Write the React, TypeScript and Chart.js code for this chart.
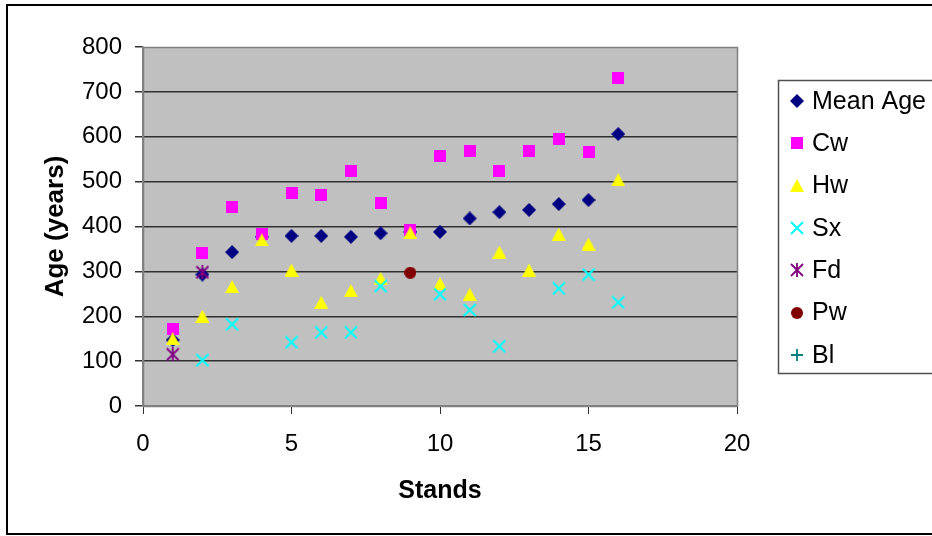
import React, { useEffect, useRef } from 'react';
import { Chart, registerables } from 'chart.js';

Chart.register(...registerables);

// ---- data ----
const stands = [1, 2, 3, 4, 5, 6, 7, 8, 9, 10, 11, 12, 13, 14, 15, 16];
const meanAge = [147, 293, 343, 377, 379, 379, 377, 385, 388, 388, 418, 432, 437, 450, 459, 606];
const cwAge = [172, 342, 444, 383, 475, 471, 524, 453, 392, 556, 569, 524, 569, 595, 565, 730];
const hwAge = [150, 200, 266, 370, 303, 231, 257, 284, 386, 273, 249, 343, 303, 383, 361, 504];
const sxStands = [2, 3, 5, 6, 7, 8, 10, 11, 12, 14, 15, 16];
const sxAge = [102, 182, 142, 164, 164, 267, 249, 214, 133, 262, 293, 231];
const fdStands = [1, 2];
const fdAge = [115, 298];
const pwStands = [9];
const pwAge = [297];
const blStands: number[] = [];
const blAge: number[] = [];
const seriesNames = ['Mean Age', 'Cw', 'Hw', 'Sx', 'Fd', 'Pw', 'Bl'];
const yTickValues = [0, 100, 200, 300, 400, 500, 600, 700, 800];
const xTickValues = [0, 5, 10, 15, 20];

const FONT = "'Liberation Sans', Arial, sans-serif";

type Kind = 'diamond' | 'square' | 'triangle' | 'x' | 'asterisk' | 'circle' | 'plus';

function makeMarker(kind: Kind, color: string): HTMLCanvasElement {
  const c = document.createElement('canvas');
  let w = 14, h = 14;
  if (kind === 'square' || kind === 'circle') { w = 12; h = 12; }
  if (kind === 'triangle') { w = 14; h = 13; }
  c.width = w; c.height = h;
  const ctx = c.getContext('2d')!;
  ctx.fillStyle = color;
  ctx.strokeStyle = color;
  switch (kind) {
    case 'diamond':
      ctx.beginPath();
      ctx.moveTo(7, 0); ctx.lineTo(14, 7); ctx.lineTo(7, 14); ctx.lineTo(0, 7);
      ctx.closePath(); ctx.fill();
      break;
    case 'square':
      ctx.fillRect(0, 0, 12, 12);
      break;
    case 'triangle':
      ctx.beginPath();
      ctx.moveTo(7, 0); ctx.lineTo(14, 13); ctx.lineTo(0, 13);
      ctx.closePath(); ctx.fill();
      break;
    case 'x':
      ctx.lineWidth = 2;
      ctx.beginPath();
      ctx.moveTo(1, 1); ctx.lineTo(13, 13);
      ctx.moveTo(13, 1); ctx.lineTo(1, 13);
      ctx.stroke();
      break;
    case 'asterisk':
      ctx.lineWidth = 1.8;
      ctx.beginPath();
      ctx.moveTo(1, 1); ctx.lineTo(13, 13);
      ctx.moveTo(13, 1); ctx.lineTo(1, 13);
      ctx.moveTo(7, 0); ctx.lineTo(7, 14);
      ctx.stroke();
      break;
    case 'circle':
      ctx.beginPath();
      ctx.arc(6, 6, 6, 0, Math.PI * 2);
      ctx.fill();
      break;
    case 'plus':
      ctx.lineWidth = 1.8;
      ctx.beginPath();
      ctx.moveTo(7, 1); ctx.lineTo(7, 13);
      ctx.moveTo(1, 7); ctx.lineTo(13, 7);
      ctx.stroke();
      break;
  }
  return c;
}

function pts(xs: number[], ys: number[]) {
  return xs.map((x, i) => ({ x, y: ys[i] }));
}

export default function App() {
  const ref = useRef<HTMLCanvasElement | null>(null);

  useEffect(() => {
    if (!ref.current) return;
    const markers = [
      makeMarker('diamond', '#000080'),
      makeMarker('square', '#FF00FF'),
      makeMarker('triangle', '#FFFF00'),
      makeMarker('x', '#00FFFF'),
      makeMarker('asterisk', '#800080'),
      makeMarker('circle', '#800000'),
      makeMarker('plus', '#008080'),
    ];
    const seriesData = [
      pts(stands, meanAge),
      pts(stands, cwAge),
      pts(stands, hwAge),
      pts(sxStands, sxAge),
      pts(fdStands, fdAge),
      pts(pwStands, pwAge),
      pts(blStands, blAge),
    ];

    const framePlugin = {
      id: 'frame',
      beforeDraw(chart: any) {
        const { ctx, chartArea: a } = chart;
        ctx.save();
        ctx.fillStyle = '#FFFFFF';
        ctx.fillRect(0, 0, chart.width, chart.height);
        ctx.fillStyle = '#C0C0C0';
        ctx.fillRect(a.left, a.top, a.right - a.left, a.bottom - a.top);
        ctx.restore();
      },
      beforeDatasetsDraw(chart: any) {
        const { ctx, chartArea: a } = chart;
        ctx.save();
        ctx.strokeStyle = '#808080';
        ctx.lineWidth = 1.5;
        ctx.strokeRect(Math.round(a.left) + 0.5, Math.round(a.top) + 0.5, Math.round(a.right - a.left), Math.round(a.bottom - a.top));
        ctx.restore();
      },
      afterDraw(chart: any) {
        const { ctx } = chart;
        ctx.save();
        // outer chart border
        ctx.strokeStyle = '#000000';
        ctx.lineWidth = 2;
        ctx.strokeRect(7, 5, 1000, 529);
        // legend box
        ctx.strokeStyle = '#505050';
        ctx.lineWidth = 1.5;
        ctx.strokeRect(778.5, 80.5, 400, 293);
        ctx.font = `25px ${FONT}`;
        ctx.fillStyle = '#000000';
        ctx.textBaseline = 'middle';
        ctx.textAlign = 'left';
        seriesNames.forEach((name, i) => {
          const cy = 101 + i * 42.3;
          const m = markers[i];
          ctx.drawImage(m, Math.round(797 - m.width / 2), Math.round(cy - m.height / 2));
          ctx.fillText(name, 812, cy + 1);
        });
        ctx.restore();
      },
    };

    const chart = new Chart(ref.current, {
      type: 'scatter',
      data: {
        datasets: seriesNames.map((name, i) => ({
          label: name,
          data: seriesData[i],
          pointStyle: markers[i] as any,
          pointRadius: 7,
          order: 7 - i,
          showLine: false,
        })),
      },
      options: {
        responsive: false,
        animation: false,
        devicePixelRatio: 1,
        layout: { padding: { top: 47, right: 195, left: 0, bottom: 0 } },
        plugins: {
          legend: { display: false },
          tooltip: { enabled: false },
          title: { display: false },
        },
        scales: {
          x: {
            type: 'linear',
            min: 0,
            max: 20,
            afterFit: (s: any) => { s.height = 130; },
            afterBuildTicks: (s: any) => { s.ticks = xTickValues.map((v) => ({ value: v })); },
            ticks: {
              stepSize: 5,
              autoSkip: false,
              maxRotation: 0,
              padding: 16,
              color: '#000000',
              font: { family: FONT, size: 24 },
            },
            grid: {
              drawOnChartArea: false,
              drawTicks: true,
              tickLength: 8,
              tickColor: '#333333',
              color: '#333333',
            },
            border: { display: true, color: '#808080', width: 1.5 },
            title: {
              display: true,
              text: 'Stands',
              color: '#000000',
              font: { family: FONT, size: 25, weight: 'bold' },
              padding: { top: 0, bottom: 30 },
            },
          },
          y: {
            type: 'linear',
            min: 0,
            max: 800,
            afterFit: (s: any) => { s.width = 143; },
            afterBuildTicks: (s: any) => { s.ticks = yTickValues.map((v) => ({ value: v })); },
            ticks: {
              stepSize: 100,
              autoSkip: false,
              padding: 13,
              color: '#000000',
              font: { family: FONT, size: 24 },
            },
            grid: {
              drawTicks: true,
              tickLength: 8,
              tickColor: '#333333',
              lineWidth: 1.5,
              color: (c: any) => (c.tick && (c.tick.value === 0 || c.tick.value === 800) ? 'rgba(0,0,0,0)' : '#303030'),
            },
            border: { display: true, color: '#808080', width: 1.5 },
            title: {
              display: true,
              text: 'Age (years)',
              color: '#000000',
              font: { family: FONT, size: 26, weight: 'bold' },
              padding: { top: 40, bottom: 0 },
            },
          },
        },
      },
      plugins: [framePlugin],
    });

    return () => chart.destroy();
  }, []);

  return (
    <div style={{ width: 932, height: 536 }}>
      <style>{'body{margin:0;}'}</style>
      <canvas ref={ref} width={932} height={536} style={{ display: 'block' }} />
    </div>
  );
}
